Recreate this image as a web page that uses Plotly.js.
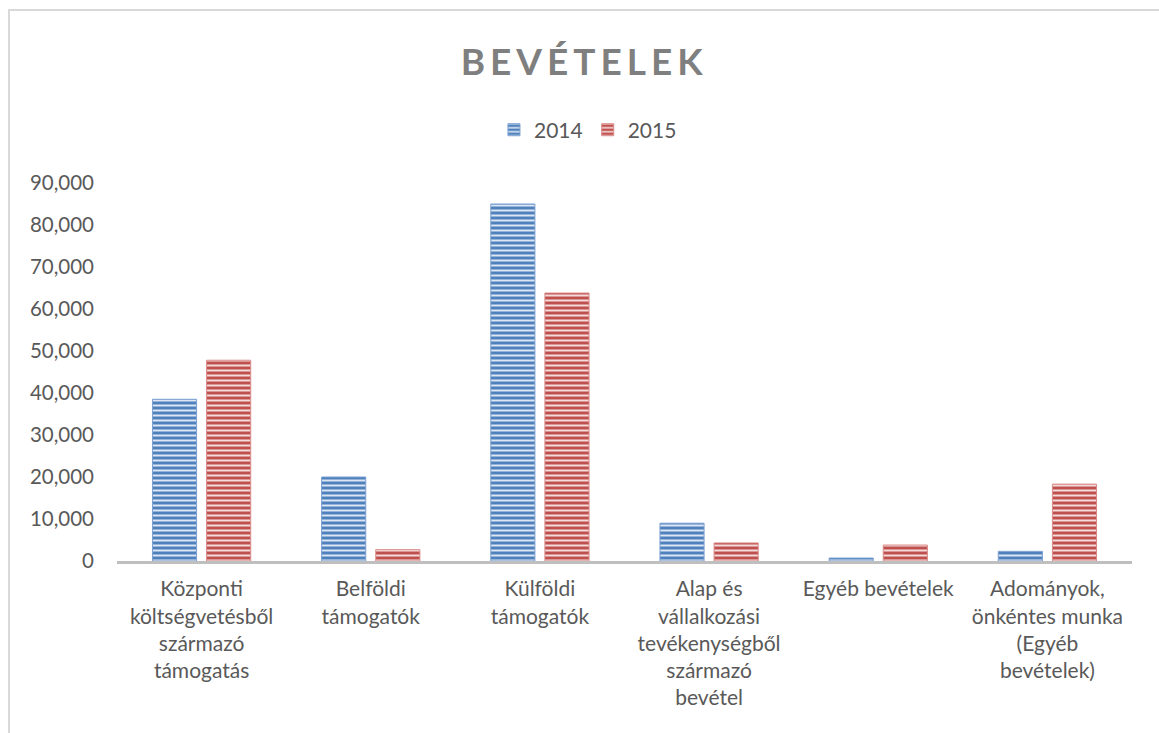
<!DOCTYPE html>
<html>
<head>
<meta charset="utf-8">
<script src="https://cdn.plot.ly/plotly-3.0.1.min.js"></script>
<style>
  html, body { margin: 0; padding: 0; background: #fff; }
  #wrap { position: relative; width: 1159px; height: 733px; overflow: hidden; }
  #frame { position: absolute; left: 8px; top: 9px; width: 1200px; height: 800px;
           border-left: 2px solid #d9d9d9; border-top: 2px solid #d9d9d9; pointer-events: none; }
  #chart { position: absolute; left: 0; top: 0; width: 1159px; height: 733px; }
</style>
</head>
<body>
<div id="wrap">
  <div id="chart"></div>
  <div id="frame"></div>
</div>
<script>
const categories = [
  "Központi<br>költségvetésből<br>származó<br>támogatás",
  "Belföldi<br>támogatók",
  "Külföldi<br>támogatók",
  "Alap és<br>vállalkozási<br>tevékenységből<br>származó<br>bevétel",
  "Egyéb bevételek",
  "Adományok,<br>önkéntes munka<br>(Egyéb<br>bevételek)"
];
const values2014 = [38500, 20000, 85000, 9000, 700, 2300];
const values2015 = [47800, 2700, 63800, 4300, 3800, 18300];
const seriesNames = ["2014", "2015"];
const tickValues = [0, 10000, 20000, 30000, 40000, 50000, 60000, 70000, 80000, 90000];

const FONT = "Lato, 'Open Sans', sans-serif";

const traces = [
  {
    type: "bar", name: seriesNames[0], x: categories, y: values2014,
    marker: {
      color: "#4F81BD",
      line: { color: "#7a9fd0", width: 1 },
      pattern: { shape: "-", fillmode: "replace", bgcolor: "#4F81BD", fgcolor: "#dce6f4", size: 5, solidity: 0.4 }
    },
    hoverinfo: "y+name"
  },
  {
    type: "bar", name: seriesNames[1], x: categories, y: values2015,
    marker: {
      color: "#C0504D",
      line: { color: "#d88a88", width: 1 },
      pattern: { shape: "-", fillmode: "replace", bgcolor: "#C0504D", fgcolor: "#f4dcdb", size: 5, solidity: 0.4 }
    },
    hoverinfo: "y+name"
  }
];

const layout = {
  width: 1159, height: 733,
  paper_bgcolor: "rgba(0,0,0,0)",
  plot_bgcolor: "rgba(0,0,0,0)",
  margin: { l: 117, r: 27, t: 183, b: 172 },
  font: { family: FONT, color: "#595959", size: 20 },
  title: {
    text: "BEVÉTELEK",
    font: { family: FONT, size: 37, color: "#7f7f7f", weight: "bold" },
    x: 0.504, xref: "container", xanchor: "center",
    y: 0.915, yref: "container", yanchor: "middle"
  },
  showlegend: true,
  legend: {
    orientation: "h", x: 0.464, xanchor: "center", y: 1.14, yanchor: "middle",
    font: { family: FONT, size: 21, color: "#595959" },
    itemwidth: 30, traceorder: "normal"
  },
  barmode: "group",
  bargap: 0.36,
  bargroupgap: 0.185,
  xaxis: {
    type: "category",
    showgrid: false, zeroline: false,
    showline: true, linecolor: "#bfbfbf", linewidth: 3,
    ticks: "", tickangle: 0,
    tickfont: { family: FONT, size: 21, color: "#595959" },
    ticklabelstandoff: 7
  },
  yaxis: {
    range: [0, 90000],
    tickvals: tickValues,
    tickformat: ",d",
    showgrid: false, zeroline: false, showline: false,
    ticks: "",
    tickfont: { family: FONT, size: 20.5, color: "#595959" },
    ticklabelstandoff: 22
  }
};

Plotly.newPlot("chart", traces, layout, { displayModeBar: false, staticPlot: true }).then(function () {
  const t = document.querySelector("#chart .gtitle");
  if (t) { t.style.letterSpacing = "5px"; }
});
</script>
</body>
</html>
